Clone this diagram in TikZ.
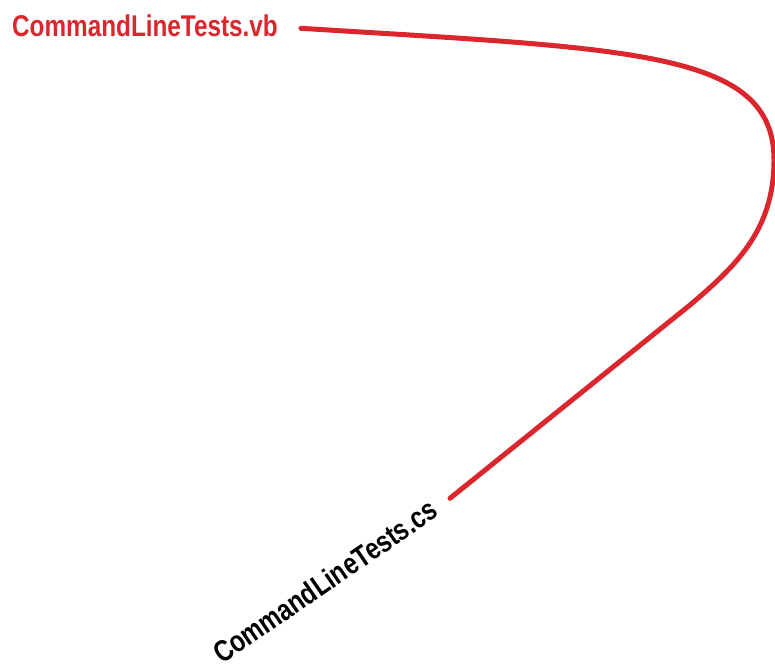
\documentclass[tikz,border=0pt]{standalone}
\usepackage{fontspec}
\usepackage{xcolor}
\newfontfamily\condsans[FakeStretch=0.81]{Liberation Sans}
\definecolor{linkred}{RGB}{218,38,44}
\usepackage{tikz}
\usetikzlibrary{arrows.meta,positioning}

\begin{document}
\begin{tikzpicture}[x=1pt, y=-1pt, >=Stealth]
        \useasboundingbox (0,0) rectangle (775,670);
        \tikzset{filename/.style={inner sep=0pt, font=\condsans\bfseries\fontsize{30}{30}\selectfont}}

        \node (vb) [filename, text=linkred, anchor=base west] at (12,36) {CommandLineTests.vb};
        \node (cs) [filename, text=black, anchor=base west, rotate=34.5] at (222,665) {CommandLineTests.cs};

        \draw[linkred, line width=5pt, line cap=round]
          ([shift={(23,3)}]vb.east) .. controls (630,49) and (774,50) .. (774,160)
          .. controls (774,230) and (736,266) .. (690,305)
          -- ([shift={(16,-8)}]cs.east);
      \end{tikzpicture}
\end{document}
